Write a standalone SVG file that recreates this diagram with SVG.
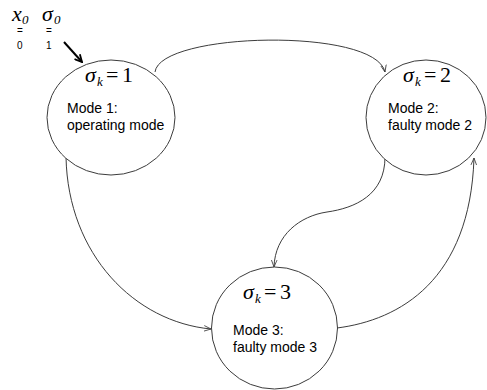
<svg xmlns="http://www.w3.org/2000/svg" width="487" height="390" viewBox="0 0 487 390">
  <style>
    .node { fill: #ffffff; stroke: #3c3c3c; stroke-width: 1; }
    .conn { fill: none; stroke: #3c3c3c; stroke-width: 1; }
    .eq { font-family: "Liberation Serif", "Times New Roman", serif; font-size: 22px; fill: #000; }
    .it { font-style: italic; }
    .sub { font-family: "Liberation Serif", "Times New Roman", serif; font-size: 13px; font-style: italic; fill: #000; }
    .lbl { font-family: "Liberation Sans", Arial, sans-serif; font-size: 14px; fill: #000; }
    .tiny { font-family: "Liberation Sans", Arial, sans-serif; font-size: 10px; fill: #000; }
  </style>
  <defs>
    <marker id="arr" viewBox="0 0 10 10" refX="10" refY="5" markerWidth="7" markerHeight="7" orient="auto" markerUnits="userSpaceOnUse">
      <path d="M0,1 L10,5 L0,9" fill="none" stroke="#3c3c3c" stroke-width="1.2"/>
    </marker>
    <marker id="arrbold" viewBox="0 0 10 10" refX="9" refY="5" markerWidth="9" markerHeight="9" orient="auto" markerUnits="userSpaceOnUse">
      <path d="M1,1 L9,5 L1,9" fill="none" stroke="#000" stroke-width="2"/>
    </marker>
  </defs>

  <g id="initial">
    <text class="eq it" x="12" y="21" font-size="20">x</text>
    <text class="sub" x="22" y="24" font-style="normal">0</text>
    <text class="eq it" x="42" y="21" font-size="20">σ</text>
    <text class="sub" x="54" y="24" font-style="normal">0</text>
    <text class="tiny" x="17" y="34">=</text>
    <text class="tiny" x="46" y="34">=</text>
    <text class="tiny" x="17" y="49">0</text>
    <text class="tiny" x="46" y="49">1</text>
  </g>

  <g id="connectors">
    <line x1="64" y1="42" x2="82" y2="62" stroke="#000" stroke-width="2" marker-end="url(#arrbold)"/>
    <path class="conn" d="M155,72 C160,32 375,27 385,72" marker-end="url(#arr)"/>
    <path class="conn" d="M385,157 C385,195 355,208 327,212 C300,216 275,235 274,267" marker-end="url(#arr)"/>
    <path class="conn" d="M66,157 C68,255 135,322 211,329" marker-end="url(#arr)"/>
    <path class="conn" d="M337,328 C400,320 470,280 474,158" marker-end="url(#arr)"/>
  </g>

  <g id="mode1">
    <ellipse class="node" cx="111" cy="117.5" rx="64" ry="57.5"/>
    <text class="eq it" x="85" y="82">σ</text>
    <text class="sub" x="97" y="86">k</text>
    <text class="eq" x="106" y="82">=</text>
    <text class="eq" x="122" y="82">1</text>
    <text class="lbl" x="67" y="113">Mode 1:</text>
    <text class="lbl" x="67" y="130">operating mode</text>
  </g>

  <g id="mode2">
    <ellipse class="node" cx="426" cy="117.5" rx="60" ry="57.5"/>
    <text class="eq it" x="403" y="82">σ</text>
    <text class="sub" x="415" y="86">k</text>
    <text class="eq" x="424" y="82">=</text>
    <text class="eq" x="440" y="82">2</text>
    <text class="lbl" x="388" y="113">Mode 2:</text>
    <text class="lbl" x="388" y="130">faulty mode 2</text>
  </g>

  <g id="mode3">
    <ellipse class="node" cx="274.5" cy="328" rx="63" ry="61"/>
    <text class="eq it" x="243" y="299">σ</text>
    <text class="sub" x="255" y="303">k</text>
    <text class="eq" x="264" y="299">=</text>
    <text class="eq" x="280" y="299">3</text>
    <text class="lbl" x="233" y="335">Mode 3:</text>
    <text class="lbl" x="233" y="352">faulty mode 3</text>
  </g>
</svg>
